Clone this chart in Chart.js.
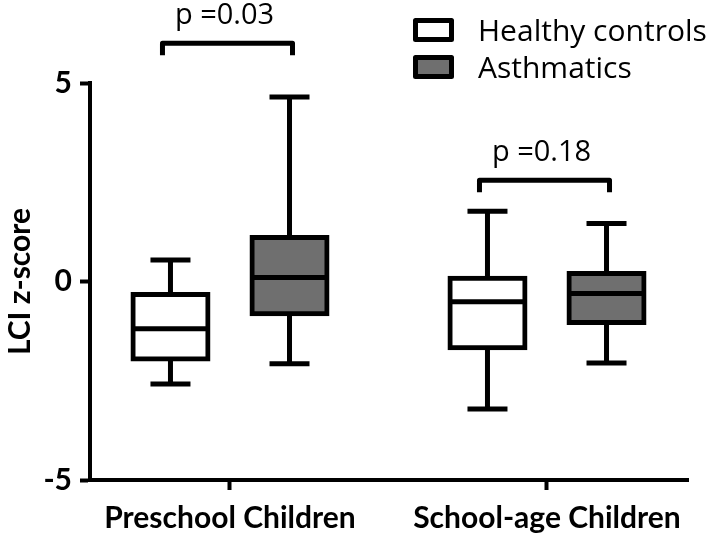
<!DOCTYPE html>
<html>
<head>
<meta charset="utf-8">
<script src="https://cdn.jsdelivr.net/npm/chart.js@4"></script>
<style>
  html, body { margin: 0; padding: 0; background: #ffffff; }
  #wrap { width: 709px; height: 536px; }
</style>
</head>
<body>
<div id="wrap"><canvas id="c" width="709" height="536"></canvas></div>
<script>
// ---- data ----
const categories = ['Preschool Children', 'School-age Children'];
const categoryPositions = [1, 2];
const seriesNames = ['Healthy controls', 'Asthmatics'];

const healthyMin    = [-2.58, -3.21];
const healthyQ1     = [-1.95, -1.67];
const healthyMedian = [-1.19, -0.51];
const healthyQ3     = [-0.33,  0.08];
const healthyMax    = [ 0.54,  1.77];

const asthmaMin    = [-2.07, -2.05];
const asthmaQ1     = [-0.81, -1.03];
const asthmaMedian = [ 0.10, -0.30];
const asthmaQ3     = [ 1.11,  0.20];
const asthmaMax    = [ 4.65,  1.46];

const yTicks = [-5, 0, 5];
const pLabels = ['p =0.03', 'p =0.18'];
const bracketY = [6.0, 2.55];
const bracketLeg = [0.3, 0.3];

// ---- build ----
const stats = [
  { min: healthyMin, q1: healthyQ1, med: healthyMedian, q3: healthyQ3, max: healthyMax },
  { min: asthmaMin,  q1: asthmaQ1,  med: asthmaMedian,  q3: asthmaQ3,  max: asthmaMax }
];
const fills = ['#ffffff', '#6f6f6f'];
const LW = 5;

const datasets = stats.map((s, i) => ({
  label: seriesNames[i],
  data: categoryPositions.map((x, j) => ({ x: x, y: [s.q1[j], s.q3[j]] })),
  backgroundColor: fills[i],
  borderColor: '#000000',
  borderWidth: LW,
  borderSkipped: false,
  inflateAmount: LW / 2,
  categoryPercentage: 0.751,
  barPercentage: 0.63
}));

const boxPlugin = {
  id: 'boxParts',
  beforeDatasetsDraw(chart) {
    const ctx = chart.ctx, y = chart.scales.y;
    ctx.save();
    ctx.strokeStyle = '#000';
    ctx.lineWidth = LW;
    ctx.lineCap = 'butt';
    stats.forEach((s, i) => {
      const meta = chart.getDatasetMeta(i);
      meta.data.forEach((el, j) => {
        const x = el.x, cap = 20;
        const pMax = y.getPixelForValue(s.max[j]);
        const pMin = y.getPixelForValue(s.min[j]);
        const pQ3 = y.getPixelForValue(s.q3[j]);
        const pQ1 = y.getPixelForValue(s.q1[j]);
        ctx.beginPath();
        ctx.moveTo(x, pMax); ctx.lineTo(x, pQ3);
        ctx.moveTo(x, pQ1); ctx.lineTo(x, pMin);
        ctx.moveTo(x - cap, pMax); ctx.lineTo(x + cap, pMax);
        ctx.moveTo(x - cap, pMin); ctx.lineTo(x + cap, pMin);
        ctx.stroke();
      });
    });
    ctx.restore();
  },
  afterDatasetsDraw(chart) {
    const ctx = chart.ctx, y = chart.scales.y;
    ctx.save();
    ctx.strokeStyle = '#000';
    ctx.lineWidth = LW;
    stats.forEach((s, i) => {
      const meta = chart.getDatasetMeta(i);
      meta.data.forEach((el, j) => {
        const pm = y.getPixelForValue(s.med[j]);
        const half = el.width / 2;
        ctx.beginPath();
        ctx.moveTo(el.x - half, pm); ctx.lineTo(el.x + half, pm);
        ctx.stroke();
      });
    });
    // significance brackets
    ctx.lineWidth = LW;
    ctx.font = '29px "Open Sans"';
    ctx.fillStyle = '#000';
    ctx.textAlign = 'center';
    ctx.textBaseline = 'middle';
    categoryPositions.forEach((c, j) => {
      const a = chart.getDatasetMeta(0).data[j];
      const b = chart.getDatasetMeta(1).data[j];
      const yb = y.getPixelForValue(bracketY[j]);
      const yl = y.getPixelForValue(bracketY[j] - bracketLeg[j]);
      const x0 = a.x - 8, x1 = b.x + 3;
      ctx.beginPath();
      ctx.moveTo(x0, yl); ctx.lineTo(x0, yb); ctx.lineTo(x1, yb); ctx.lineTo(x1, yl);
      ctx.lineJoin = 'round';
      ctx.stroke();
      ctx.fillText(pLabels[j], (x0 + x1) / 2 - 3, yb - 28);
    });
    // legend
    const lx = 415.5, ly = [20.5, 57.5], bw = 36, bh = 19;
    ctx.textAlign = 'left';
    ctx.font = '30px "Open Sans"';
    seriesNames.forEach((n, i) => {
      ctx.fillStyle = fills[i];
      ctx.fillRect(lx, ly[i], bw, bh);
      ctx.strokeRect(lx, ly[i], bw, bh);
      ctx.fillStyle = '#000';
      ctx.fillText(n, 478, ly[i] + bh / 2 + 2);
    });
    ctx.restore();
  }
};

new Chart(document.getElementById('c'), {
  type: 'bar',
  data: { datasets },
  options: {
    responsive: false,
    animation: false,
    layout: { padding: { top: 83, right: 21, left: 0, bottom: 0 } },
    plugins: { legend: { display: false }, tooltip: { enabled: false } },
    scales: {
      x: {
        type: 'linear',
        offset: false,
        min: 0.5584,
        max: 2.4448,
        afterBuildTicks: s => { s.ticks = categoryPositions.map(v => ({ value: v })); },
        afterFit: s => { s.height = 56; },
        ticks: {
          callback: (v) => categories[categoryPositions.indexOf(v)],
          color: '#000',
          font: { family: 'Lato', size: 30, weight: 'bold' },
          padding: 10,
          maxRotation: 0,
          autoSkip: false
        },
        grid: { offset: false, drawOnChartArea: false, drawTicks: true, tickLength: 10, tickWidth: 4, tickColor: '#000' },
        border: { display: true, color: '#000', width: 4 }
      },
      y: {
        min: -5,
        max: 5,
        afterBuildTicks: s => { s.ticks = yTicks.map(v => ({ value: v })); },
        afterFit: s => { s.width = 90; },
        ticks: {
          color: '#000',
          font: { family: 'Lato', size: 30, weight: 'bold' },
          padding: 8
        },
        title: {
          display: true,
          text: 'LCI z-score',
          color: '#000',
          font: { family: 'Lato', size: 30, weight: 'bold' },
          padding: { top: 2, bottom: 0 }
        },
        grid: { drawOnChartArea: false, drawTicks: true, tickLength: 10, tickWidth: 4, tickColor: '#000' },
        border: { display: true, color: '#000', width: 4 }
      }
    }
  },
  plugins: [boxPlugin]
});
</script>
</body>
</html>
